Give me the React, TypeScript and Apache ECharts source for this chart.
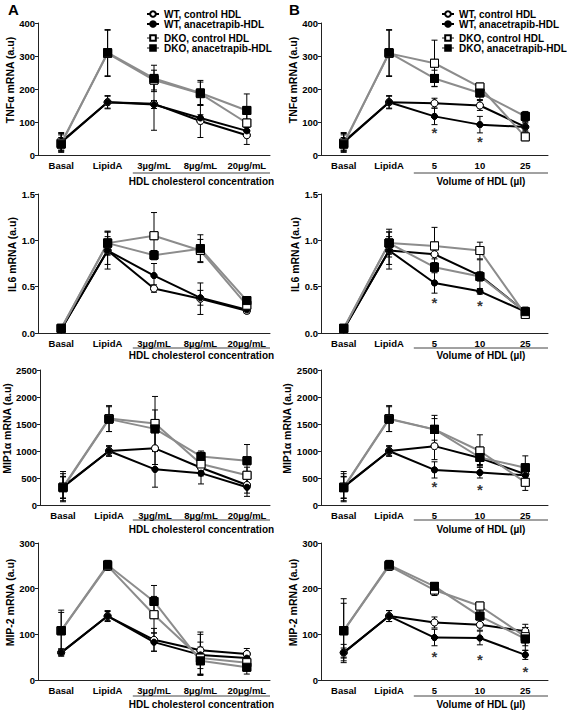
import React, { useEffect, useRef } from 'react';
import * as echarts from 'echarts';

const FONT = '"Liberation Sans", Arial, Helvetica, sans-serif';

const CATS_A = ['Basal', 'LipidA', '3µg/mL', '8µg/mL', '20µg/mL'];
const CATS_B = ['Basal', 'LipidA', '5', '10', '25'];
const SERIES_NAMES = ['WT, control HDL', 'WT, anacetrapib-HDL', 'DKO, control HDL', 'DKO, anacetrapib-HDL'];
const X_NAMES = ['HDL cholesterol concentration', 'Volume of HDL (µl)'];
const Y_NAMES = ['TNFα mRNA (a.u)', 'IL6 mRNA (a.u)', 'MIP1α mRNA (a.u)', 'MIP-2 mRNA (a.u)'];
const Y_MAX = [400, 1.5, 2500, 300];
const Y_INTERVAL = [100, 0.5, 500, 100];
const PANEL_LETTERS = ['A', 'B'];

// rows: WT control, WT anacetrapib, DKO control, DKO anacetrapib
const TNF_A_MEAN = [
  [38, 160, 155, 103, 60],
  [40, 160, 153, 112, 73],
  [36, 308, 227, 186, 97],
  [33, 310, 232, 188, 135],
];
const TNF_A_ERR = [
  [30, 20, 80, 50, 28],
  [25, 18, 12, 10, 10],
  [25, 70, 30, 35, 35],
  [20, 70, 40, 38, 50],
];
const TNF_B_MEAN = [
  [38, 160, 157, 150, 85],
  [40, 160, 117, 92, 85],
  [36, 308, 278, 206, 55],
  [33, 310, 232, 188, 117],
];
const TNF_B_ERR = [
  [30, 20, 15, 15, 15],
  [25, 18, 25, 25, 12],
  [25, 70, 70, 10, 8],
  [20, 70, 25, 20, 15],
];
const TNF_B_STARS = [[2, 67], [3, 40]];

const IL6_A_MEAN = [
  [0.04, 0.89, 0.48, 0.37, 0.24],
  [0.04, 0.89, 0.62, 0.38, 0.25],
  [0.05, 0.97, 1.05, 0.89, 0.3],
  [0.05, 0.97, 0.84, 0.91, 0.35],
];
const IL6_A_ERR = [
  [0.02, 0.2, 0.04, 0.17, 0.03],
  [0.02, 0.15, 0.13, 0.08, 0.03],
  [0.02, 0.13, 0.25, 0.12, 0.03],
  [0.02, 0.12, 0.05, 0.15, 0.03],
];
const IL6_B_MEAN = [
  [0.04, 0.89, 0.85, 0.62, 0.23],
  [0.04, 0.89, 0.54, 0.45, 0.23],
  [0.05, 0.97, 0.94, 0.89, 0.2],
  [0.05, 0.97, 0.71, 0.61, 0.23],
];
const IL6_B_ERR = [
  [0.02, 0.2, 0.05, 0.17, 0.03],
  [0.02, 0.15, 0.11, 0.03, 0.03],
  [0.02, 0.15, 0.2, 0.09, 0.03],
  [0.02, 0.12, 0.05, 0.05, 0.05],
];
const IL6_B_STARS = [[2, 0.33], [3, 0.3]];

const MIP1_A_MEAN = [
  [340, 1000, 1050, 690, 370],
  [330, 1000, 660, 590, 330],
  [330, 1600, 1510, 760, 550],
  [320, 1590, 1410, 900, 820],
];
const MIP1_A_ERR = [
  [280, 100, 300, 150, 150],
  [200, 80, 330, 200, 170],
  [250, 240, 500, 150, 150],
  [200, 230, 350, 100, 300],
];
const MIP1_B_MEAN = [
  [340, 1000, 1090, 870, 570],
  [330, 1000, 650, 600, 550],
  [330, 1600, 1400, 1000, 420],
  [320, 1590, 1400, 880, 690],
];
const MIP1_B_ERR = [
  [280, 100, 250, 120, 100],
  [200, 80, 150, 100, 80],
  [250, 240, 260, 300, 150],
  [200, 230, 200, 150, 220],
];
const MIP1_B_STARS = [[2, 340], [3, 296]];

const MIP2_A_MEAN = [
  [60, 140, 88, 65, 57],
  [60, 140, 83, 55, 48],
  [108, 250, 143, 48, 38],
  [108, 252, 172, 42, 28],
];
const MIP2_A_ERR = [
  [8, 12, 25, 40, 12],
  [6, 10, 20, 45, 10],
  [40, 10, 40, 35, 15],
  [45, 10, 35, 30, 15],
];
const MIP2_B_MEAN = [
  [60, 140, 126, 121, 107],
  [60, 140, 93, 92, 55],
  [108, 250, 197, 162, 95],
  [108, 252, 205, 140, 90],
];
const MIP2_B_ERR = [
  [10, 12, 12, 12, 15],
  [18, 12, 18, 15, 10],
  [60, 10, 12, 5, 20],
  [70, 10, 8, 18, 25],
];
const MIP2_B_STARS = [[2, 51], [3, 45], [4, 18]];

const MEANS = [
  [TNF_A_MEAN, TNF_B_MEAN],
  [IL6_A_MEAN, IL6_B_MEAN],
  [MIP1_A_MEAN, MIP1_B_MEAN],
  [MIP2_A_MEAN, MIP2_B_MEAN],
];
const ERRS = [
  [TNF_A_ERR, TNF_B_ERR],
  [IL6_A_ERR, IL6_B_ERR],
  [MIP1_A_ERR, MIP1_B_ERR],
  [MIP2_A_ERR, MIP2_B_ERR],
];
const STARS = [TNF_B_STARS, IL6_B_STARS, MIP1_B_STARS, MIP2_B_STARS];

// layout
const COLS = [
  { left: 38, width: 232, legendLeft: 146, letterX: 8 },
  { left: 321, width: 227, legendLeft: 441, letterX: 289 },
];
const ROWS = [
  { top: 23, bottom: 155, under: 173, name: 181 },
  { top: 194, bottom: 333, under: 348, name: 355 },
  { top: 370, bottom: 505, under: 520, name: 529 },
  { top: 543, bottom: 680, under: 696, name: 704 },
];
const Y_NAME_GAP = [20, 20, 25, 20];

const STYLES = [
  { line: '#000', fill: '#fff', symbol: 'circle', size: 7 },
  { line: '#000', fill: '#000', symbol: 'circle', size: 6 },
  { line: '#8c8c8c', fill: '#fff', symbol: 'rect', size: 8 },
  { line: '#8c8c8c', fill: '#000', symbol: 'rect', size: 8 },
];

const AXIS_COLOR = '#222';

function errorRender(params: any, api: any) {
  const x = api.value(0);
  const lo = api.coord([x, api.value(1)]);
  const hi = api.coord([x, api.value(2)]);
  const w = 3;
  const st = { stroke: '#000', lineWidth: 1 };
  return {
    type: 'group',
    children: [
      { type: 'line', shape: { x1: hi[0], y1: hi[1], x2: lo[0], y2: lo[1] }, style: st },
      { type: 'line', shape: { x1: hi[0] - w, y1: hi[1], x2: hi[0] + w, y2: hi[1] }, style: st },
      { type: 'line', shape: { x1: lo[0] - w, y1: lo[1], x2: lo[0] + w, y2: lo[1] }, style: st },
    ],
  };
}

function buildOption() {
  const grid: any[] = [];
  const xAxis: any[] = [];
  const yAxis: any[] = [];
  const series: any[] = [];
  const graphic: any[] = [];
  const legend: any[] = [];

  for (let r = 0; r < 4; r++) {
    for (let c = 0; c < 2; c++) {
      const idx = r * 2 + c;
      const col = COLS[c];
      const row = ROWS[r];
      grid.push({ left: col.left, top: row.top, width: col.width, height: row.bottom - row.top });
      xAxis.push({
        gridIndex: idx,
        type: 'category',
        data: c === 0 ? CATS_A : CATS_B,
        boundaryGap: true,
        axisLine: { lineStyle: { color: AXIS_COLOR, width: 1 } },
        axisTick: { show: false },
        axisLabel: { color: '#000', fontSize: 9.5, fontWeight: 'bold', fontFamily: FONT, margin: 5, interval: 0 },
      });
      yAxis.push({
        gridIndex: idx,
        type: 'value',
        min: 0,
        max: Y_MAX[r],
        interval: Y_INTERVAL[r],
        splitLine: { show: false },
        axisLine: { show: true, lineStyle: { color: AXIS_COLOR, width: 1 } },
        axisTick: { show: true, length: 3, lineStyle: { color: AXIS_COLOR } },
        axisLabel: {
          color: '#000', fontSize: 9.5, fontWeight: 'bold', fontFamily: FONT, margin: 3,
          formatter: r === 1 ? (v: number) => v.toFixed(1) : (v: number) => String(v),
        },
        name: Y_NAMES[r],
        nameLocation: 'middle',
        nameGap: Y_NAME_GAP[r],
        nameRotate: 90,
        nameTextStyle: { color: '#000', fontSize: 10.5, fontWeight: 'bold', fontFamily: FONT, padding: [0, 0, 0, 18] },
      });

      const mean = MEANS[r][c];
      const err = ERRS[r][c];
      for (let s = 0; s < 4; s++) {
        const st = STYLES[s];
        series.push({
          type: 'line',
          name: SERIES_NAMES[s],
          xAxisIndex: idx,
          yAxisIndex: idx,
          data: mean[s],
          symbol: st.symbol,
          symbolSize: st.size,
          showSymbol: true,
          lineStyle: { color: st.line, width: 2 },
          itemStyle: { color: st.fill, borderColor: '#000', borderWidth: 1 },
          emphasis: { disabled: true },
          silent: true,
          z: 2,
        });
        series.push({
          type: 'custom',
          name: SERIES_NAMES[s],
          xAxisIndex: idx,
          yAxisIndex: idx,
          data: mean[s].map((m: number, k: number) => [k, m - err[s][k], m + err[s][k]]),
          encode: { x: 0, y: [1, 2] },
          renderItem: errorRender,
          silent: true,
          z: 1,
        });
        series.push({
          type: 'scatter',
          name: SERIES_NAMES[s],
          xAxisIndex: idx,
          yAxisIndex: idx,
          data: mean[s].map((m: number, k: number) => [k, m]),
          symbol: st.symbol,
          symbolSize: st.size,
          itemStyle: { color: st.fill, borderColor: '#000', borderWidth: 1, opacity: 1 },
          emphasis: { disabled: true },
          silent: true,
          z: 3,
        });
      }
      if (c === 1) {
        series.push({
          type: 'scatter',
          xAxisIndex: idx,
          yAxisIndex: idx,
          data: STARS[r],
          symbolSize: 1,
          itemStyle: { color: 'transparent' },
          label: { show: true, position: 'inside', formatter: '*', fontSize: 15, fontWeight: 'bold', color: '#000', fontFamily: FONT },
          silent: true,
          z: 4,
        });
      }

      // underline and x-axis name
      const cat = col.width / 5;
      const x1 = col.left + 2 * cat + 2;
      const x2 = col.left + col.width;
      graphic.push({
        type: 'line',
        shape: { x1, y1: row.under, x2, y2: row.under },
        style: { stroke: '#444', lineWidth: 1 },
        silent: true,
      });
      graphic.push({
        type: 'text',
        x: (x1 + x2) / 2,
        y: row.name,
        style: {
          text: X_NAMES[c], fill: '#000', font: `bold 10px ${FONT}`,
          textAlign: 'center', textVerticalAlign: 'middle',
        },
        silent: true,
      });
    }
  }

  for (let c = 0; c < 2; c++) {
    const col = COLS[c];
    graphic.push({
      type: 'text', x: col.letterX, y: 2,
      style: { text: PANEL_LETTERS[c], fill: '#000', font: `bold 15px ${FONT}` },
      silent: true,
    });
    const common = {
      orient: 'vertical', left: col.legendLeft, padding: 0, itemGap: 0,
      itemWidth: 12, itemHeight: 7, selectedMode: false,
      textStyle: { fontSize: 10, fontWeight: 'bold', fontFamily: FONT, color: '#000', lineHeight: 10 },
    };
    legend.push({ ...common, top: 9, data: SERIES_NAMES.slice(0, 2) });
    legend.push({ ...common, top: 33, data: SERIES_NAMES.slice(2, 4) });
  }

  return {
    animation: false,
    backgroundColor: '#fff',
    textStyle: { fontFamily: FONT },
    grid, xAxis, yAxis, series, legend, graphic,
  };
}

export default function App() {
  const ref = useRef<HTMLDivElement>(null);
  useEffect(() => {
    const chart = echarts.init(ref.current as HTMLDivElement, null, { renderer: 'svg' });
    chart.setOption(buildOption() as any);
    return () => chart.dispose();
  }, []);
  return (
    <div
      ref={ref}
      style={{ position: 'fixed', left: 0, top: 0, width: 567, height: 714, background: '#fff' }}
    />
  );
}
